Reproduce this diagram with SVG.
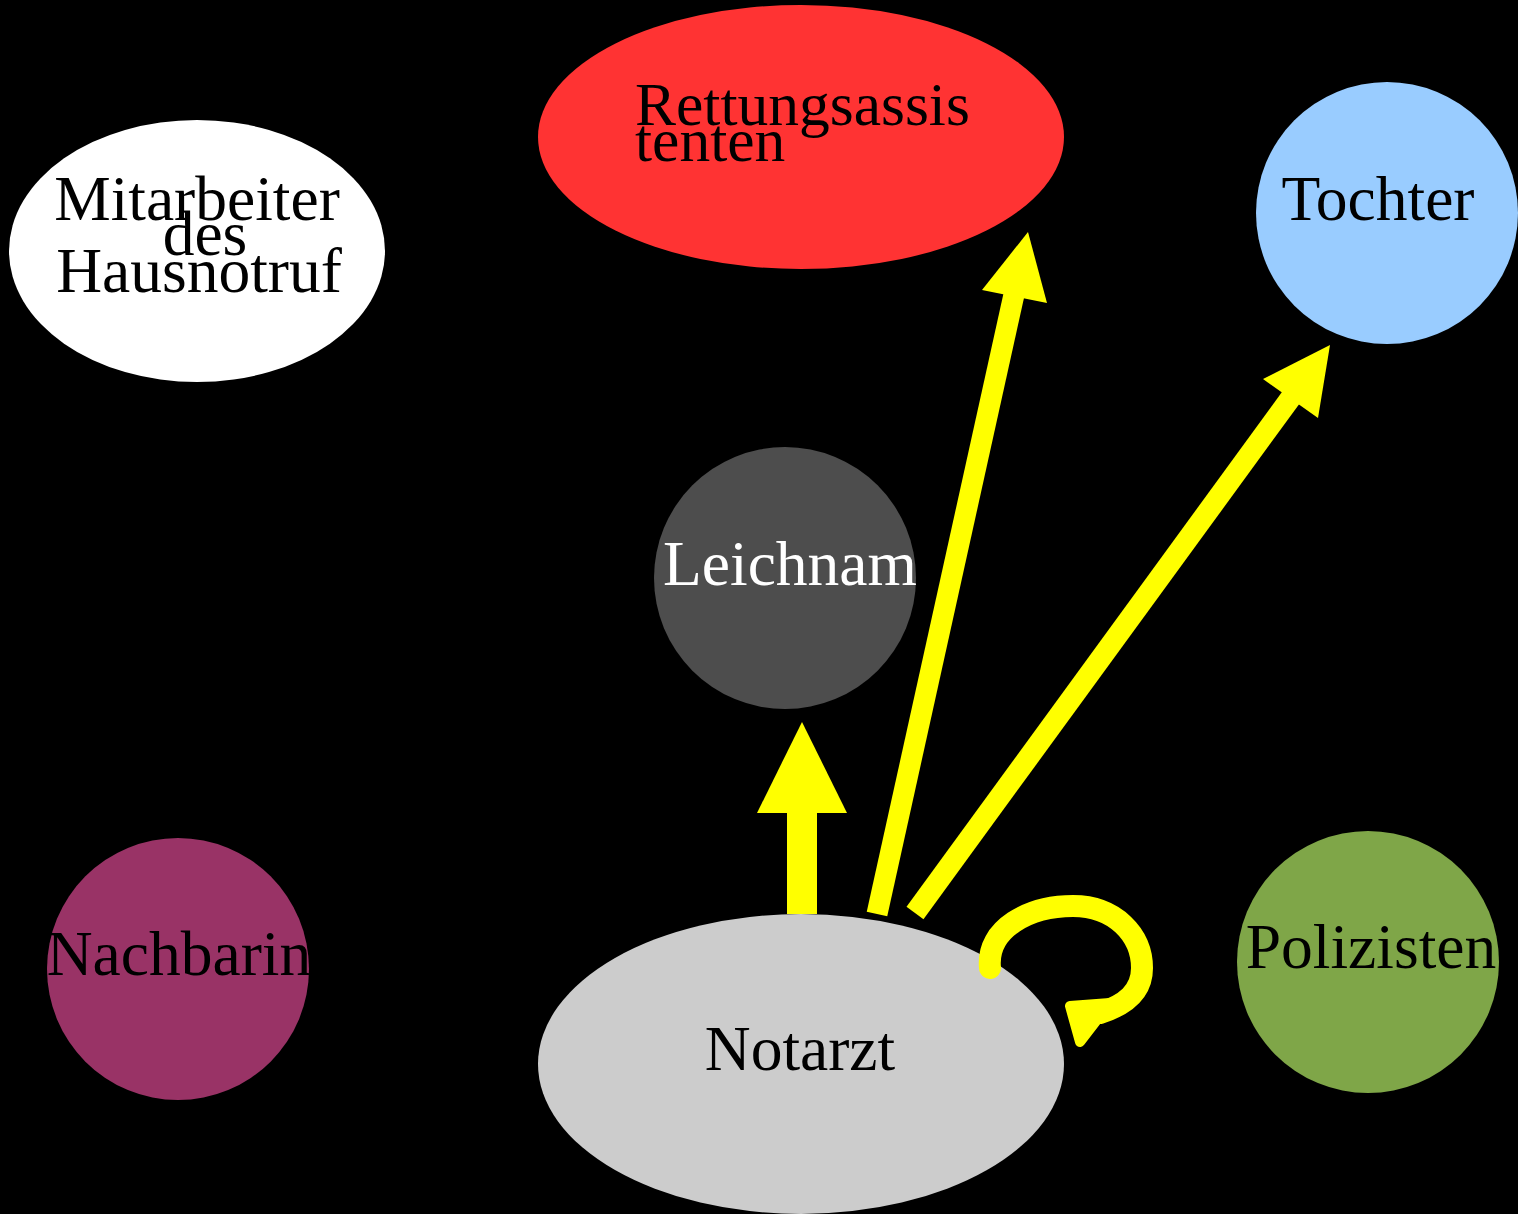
<svg xmlns="http://www.w3.org/2000/svg" width="1518" height="1214" viewBox="0 0 1518 1214">
<style>
text{font-family:"Liberation Serif","Times New Roman",serif;font-size:63.5px;fill:#000}
.c{text-anchor:middle}
.r{font-size:61.5px}
.e{stroke:#ffff00;fill:none}
.h{fill:#ffff00}
</style>
<rect width="1518" height="1214" fill="#000"/>
<g id="rettungsassistenten">
<ellipse cx="801" cy="137" rx="263" ry="132" fill="#ff3333"/>
<text class="r" x="635" y="125">Rettungsassis</text>
<text class="r" x="635" y="161">tenten</text>
</g>
<g id="mitarbeiter">
<ellipse cx="197" cy="251" rx="188" ry="131" fill="#ffffff"/>
<text class="c" x="197" y="220">Mitarbeiter</text>
<text class="c" x="205" y="255">des</text>
<text class="c" x="199" y="292">Hausnotruf</text>
</g>
<g id="tochter">
<circle cx="1387" cy="213" r="131" fill="#99ccff"/>
<text class="c" x="1378" y="220">Tochter</text>
</g>
<g id="leichnam">
<circle cx="785" cy="578" r="131" fill="#4d4d4d"/>
<text class="c" x="790" y="585" style="fill:#fff">Leichnam</text>
</g>
<g id="nachbarin">
<circle cx="178" cy="969" r="131" fill="#993366"/>
<text class="c" x="179" y="975">Nachbarin</text>
</g>
<g id="polizisten">
<circle cx="1368" cy="962" r="131" fill="#7fa648"/>
<text class="c" x="1371" y="968">Polizisten</text>
</g>
<g id="notarzt">
<ellipse cx="801" cy="1064" rx="263" ry="150" fill="#cccccc"/>
<text class="c" x="800" y="1070">Notarzt</text>
</g>
<g id="connectors">
<line class="e" x1="802" y1="914" x2="802" y2="810" stroke-width="30"/>
<polygon class="h" points="802,722 847,813 757,813"/>
<line class="e" x1="877" y1="914" x2="1015" y2="290" stroke-width="21"/>
<polygon class="h" points="1028,232 1047,303 982,290"/>
<line class="e" x1="915" y1="913" x2="1295" y2="392" stroke-width="21"/>
<polygon class="h" points="1330,345 1318,418 1263,379"/>
<path class="e" d="M990,968 C986,928 1030,906 1073,906 C1115,906 1142,935 1142,968 C1142,992 1125,1005 1100,1013" stroke-width="22" stroke-linecap="round"/>
<polygon class="h" points="1070,1006 1110,1003 1080,1042" stroke="#ffff00" stroke-width="10" stroke-linejoin="round"/>
</g>
</svg>
